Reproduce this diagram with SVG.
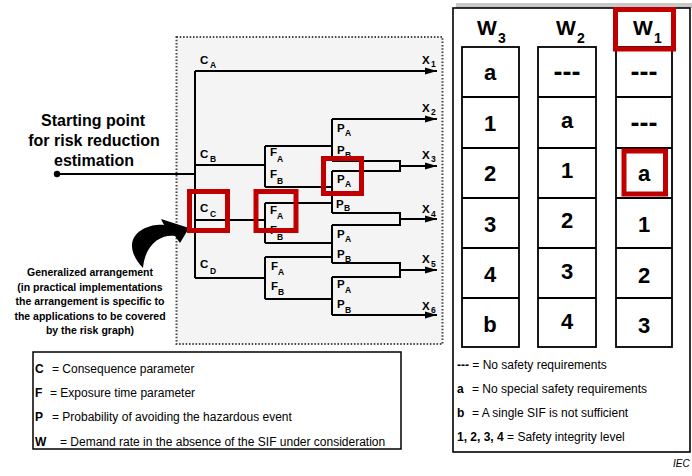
<svg xmlns="http://www.w3.org/2000/svg" width="692" height="476" viewBox="0 0 692 476">
<defs>
<marker id="arr" markerWidth="12" markerHeight="8" refX="12" refY="4" orient="auto" markerUnits="userSpaceOnUse"><path d="M0,0.5 L12,4 L0,7.5 Z" fill="#000"/></marker>
<style>
text{font-family:'Liberation Sans',Arial,sans-serif;fill:#000}
.b{font-weight:bold}
.lbl{font-size:11.5px;font-weight:bold}
.sub{font-size:8.5px;font-weight:bold}
.ln{fill:none;stroke:#000;stroke-width:2}
.ar{fill:none;stroke:#000;stroke-width:2;marker-end:url(#arr)}
.red{fill:none;stroke:#c00000;stroke-width:5}
.cell{fill:#fff;stroke:#000;stroke-width:1.8}
.div{stroke:#000;stroke-width:1.8}
.ct{font-size:22px;font-weight:bold;text-anchor:middle}
.dash{font-size:27px;font-weight:bold;text-anchor:middle}
.hw{font-size:21px;font-weight:bold}
.hs{font-size:14px;font-weight:bold}
.lg{font-size:12px}
</style>
</defs>
<rect width="692" height="476" fill="#fff"/>
<!-- dotted frame -->
<g id="frame">
<rect x="176.5" y="37" width="266" height="307" fill="#f4f4f4" stroke="#444" stroke-width="2" stroke-dasharray="1.5 1.8"/>
</g>
<!-- connectors -->
<g id="connectors">
<circle cx="57" cy="174" r="3.2" fill="#000"/>
<path class="ln" d="M57 174 H195"/>
<path class="ln" d="M195 71 V278"/>
<path class="ar" d="M195 71 H437"/>
<path class="ln" d="M195 165 H265 M265 146 V187 M265 146 H332 M265 187 H332"/>
<path class="ln" d="M332 119 V161"/>
<path class="ar" d="M332 119 H437"/>
<path class="ln" d="M332 161 H400 V171 H332"/>
<path class="ar" d="M400 166 H437"/>
<path class="ln" d="M332 171 V213"/>
<path class="ln" d="M195 220 H265 M265 203 V243 M265 203 H332 M265 243 H332"/>
<path class="ln" d="M332 213 H400 V225 H332"/>
<path class="ar" d="M400 219 H437"/>
<path class="ln" d="M332 225 V263"/>
<path class="ln" d="M195 278 H265 M265 257 V299 M265 257 H332 M265 299 H332"/>
<path class="ln" d="M332 263 H400 V277 H332"/>
<path class="ar" d="M400 270 H437"/>
<path class="ln" d="M332 277 V315"/>
<path class="ar" d="M332 315 H437"/>
<path id="swoosh" d="M143 268 C128 252 128 236 145 228 C152 225 158 224 164 225 L161 219 L189 228 L180 243 L175 236 C160 234 145 245 143 268 Z" fill="#000"/>
</g>
<!-- graph labels -->
<g id="c-labels">
<text class="lbl" x="200" y="64">C</text><text class="sub" x="210" y="68">A</text>
<text class="lbl" x="200" y="158">C</text><text class="sub" x="210" y="162">B</text>
<text class="lbl" x="200" y="212">C</text><text class="sub" x="210" y="217">C</text>
<text class="lbl" x="200" y="268">C</text><text class="sub" x="210" y="274">D</text>
</g>
<g id="x-labels">
<text class="lbl" x="422" y="64">X</text><text class="sub" x="431" y="67">1</text>
<text class="lbl" x="422" y="112">X</text><text class="sub" x="431" y="115">2</text>
<text class="lbl" x="422" y="159">X</text><text class="sub" x="431" y="162">3</text>
<text class="lbl" x="422" y="213">X</text><text class="sub" x="431" y="217">4</text>
<text class="lbl" x="422" y="263">X</text><text class="sub" x="431" y="267">5</text>
<text class="lbl" x="422" y="310">X</text><text class="sub" x="431" y="313">6</text>
</g>
<g id="f-labels">
<text class="lbl" x="270" y="156">F</text><text class="sub" x="277" y="162">A</text>
<text class="lbl" x="270" y="178">F</text><text class="sub" x="277" y="184">B</text>
<text class="lbl" x="270" y="214">F</text><text class="sub" x="277" y="219">A</text>
<text class="lbl" x="270" y="234">F</text><text class="sub" x="277" y="240">B</text>
<text class="lbl" x="271" y="270">F</text><text class="sub" x="278" y="275">A</text>
<text class="lbl" x="271" y="290">F</text><text class="sub" x="278" y="295">B</text>
</g>
<g id="p-labels">
<text class="lbl" x="337" y="132">P</text><text class="sub" x="345" y="136">A</text>
<text class="lbl" x="337" y="154">P</text><text class="sub" x="345" y="158">B</text>
<text class="lbl" x="337" y="183">P</text><text class="sub" x="345" y="187">A</text>
<text class="lbl" x="336" y="208">P</text><text class="sub" x="344" y="211">B</text>
<text class="lbl" x="337" y="238">P</text><text class="sub" x="345" y="242">A</text>
<text class="lbl" x="337" y="258">P</text><text class="sub" x="345" y="262">B</text>
<text class="lbl" x="337" y="288">P</text><text class="sub" x="345" y="293">A</text>
<text class="lbl" x="337" y="308">P</text><text class="sub" x="345" y="313">B</text>
</g>
<g id="highlights">
<rect class="red" x="189.5" y="191.5" width="38" height="39"/>
<rect class="red" x="256" y="191.5" width="40" height="39"/>
<rect class="red" x="323.5" y="158.5" width="38" height="35"/>
</g>
<!-- start text -->
<g id="start">
<text class="b" font-size="16" text-anchor="middle" x="93" y="126">Starting point</text>
<text class="b" font-size="16" text-anchor="middle" x="94" y="146">for risk reduction</text>
<text class="b" font-size="16" text-anchor="middle" x="94" y="166">estimation</text>
</g>
<g id="note">
<text class="b" font-size="10.5" text-anchor="middle" x="90" y="276">Generalized arrangement</text>
<text class="b" font-size="10.5" text-anchor="middle" x="90" y="290.5">(in practical implementations</text>
<text class="b" font-size="10.5" text-anchor="middle" x="90" y="305">the arrangement is specific to</text>
<text class="b" font-size="10.5" text-anchor="middle" x="90" y="319.5">the applications to be covered</text>
<text class="b" font-size="10.5" text-anchor="middle" x="90" y="334">by the risk graph)</text>
</g>
<!-- left legend -->
<g id="legend-left">
<rect x="33" y="352" width="368" height="97" fill="#fff" stroke="#000" stroke-width="1.5"/>
<text class="lg b" x="35" y="373">C</text><text class="lg" x="52" y="373">= Consequence parameter</text>
<text class="lg b" x="35" y="397">F</text><text class="lg" x="50" y="397">= Exposure time parameter</text>
<text class="lg b" x="35" y="421">P</text><text class="lg" x="52" y="421">= Probability of avoiding the hazardous event</text>
<text class="lg b" x="35" y="446">W</text><text class="lg" x="60" y="446">= Demand rate in the absence of the SIF under consideration</text>
</g>
<!-- right table -->
<g id="table">
<rect x="456" y="3" width="236" height="5" fill="#c8c8c8"/>
<rect x="453" y="8" width="237" height="444" fill="#fff" stroke="#000" stroke-width="1.6"/>
</g>
<g id="col-w3">
<text class="hw" x="477" y="35">W</text><text class="hs" x="498" y="43">3</text>
<rect class="cell" x="462" y="47" width="57" height="300"/>
<path class="div" d="M462 97 H519 M462 148 H519 M462 198 H519 M462 248 H519 M462 298 H519"/>
<text class="ct" x="490" y="80">a</text>
<text class="ct" x="490" y="131">1</text>
<text class="ct" x="490" y="181">2</text>
<text class="ct" x="490" y="232">3</text>
<text class="ct" x="490" y="282">4</text>
<text class="ct" x="490" y="332">b</text>
</g>
<g id="col-w2">
<text class="hw" x="556" y="35">W</text><text class="hs" x="577" y="43">2</text>
<rect class="cell" x="538" y="47" width="58" height="300"/>
<path class="div" d="M538 97 H596 M538 148 H596 M538 198 H596 M538 248 H596 M538 298 H596"/>
<text class="dash" x="567" y="81">---</text>
<text class="ct" x="567" y="128">a</text>
<text class="ct" x="567" y="178">1</text>
<text class="ct" x="567" y="228">2</text>
<text class="ct" x="567" y="279">3</text>
<text class="ct" x="567" y="329">4</text>
</g>
<g id="col-w1">
<text class="hw" x="633" y="35">W</text><text class="hs" x="654" y="43">1</text>
<rect class="cell" x="616" y="47" width="56" height="300"/>
<path class="div" d="M616 97 H672 M616 148 H672 M616 198 H672 M616 248 H672 M616 298 H672"/>
<text class="dash" x="644" y="81">---</text>
<text class="dash" x="644" y="132">---</text>
<text class="ct" x="644" y="181">a</text>
<text class="ct" x="644" y="232">1</text>
<text class="ct" x="644" y="283">2</text>
<text class="ct" x="644" y="333">3</text>
<rect class="red" x="615.5" y="9.5" width="58" height="39.5"/>
<rect class="red" x="624" y="151" width="41.5" height="43"/>
</g>
<g id="legend-right">
<text class="lg" x="457" y="369"><tspan class="b">---</tspan> = No safety requirements</text>
<text class="lg b" x="457" y="393">a</text><text class="lg" x="472" y="393">= No special safety requirements</text>
<text class="lg b" x="457" y="417">b</text><text class="lg" x="472" y="417">= A single SIF is not sufficient</text>
<text class="lg" x="457" y="441"><tspan class="b">1, 2, 3, 4</tspan> = Safety integrity level</text>
</g>
<g id="iec">
<text x="673" y="467" font-size="10" font-style="italic">IEC</text>
</g>
</svg>
